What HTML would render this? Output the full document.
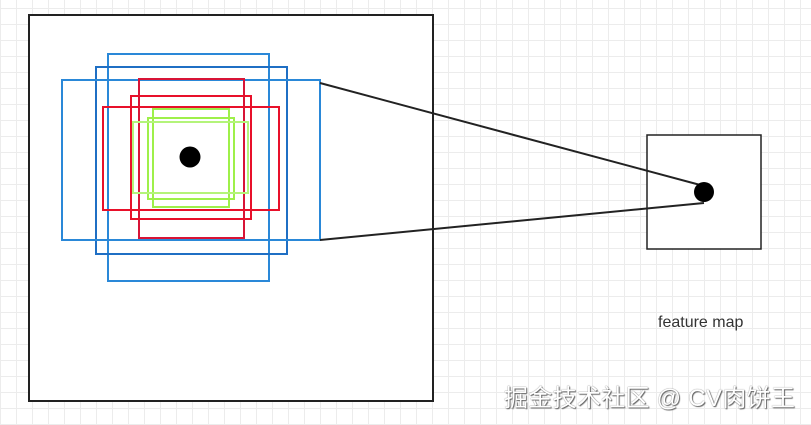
<!DOCTYPE html>
<html><head><meta charset="utf-8"><style>
html,body{margin:0;padding:0;}
body{width:811px;height:425px;overflow:hidden;background-color:#fff;
background-image:linear-gradient(#ececec 1px,transparent 1px),linear-gradient(90deg,#ececec 1px,transparent 1px);
background-size:16px 16px;background-position:0 8px;position:relative;font-family:"Liberation Sans","Noto Sans CJK SC",sans-serif;}
svg{position:absolute;left:0;top:0;}
.fm{position:absolute;left:658px;top:314px;font-size:16px;color:#333;}
.wm{position:absolute;left:504px;top:378px;font-size:24px;color:#fff;text-shadow:0 0 1px #555,1px 1px 1px #666;letter-spacing:0.3px;white-space:nowrap;}
</style></head><body>
<svg width="811" height="425">
<rect x="29" y="15" width="404" height="386" fill="#fff" stroke="#222" stroke-width="2"/>
<rect x="647" y="135" width="114" height="114" fill="#fff" stroke="#222" stroke-width="1.5"/>
<g fill="none" stroke-width="2">
<rect x="108" y="54" width="161" height="227" stroke="#2a88d8"/>
<rect x="96" y="67" width="191" height="187" stroke="#1f6fc4"/>
<rect x="62" y="80" width="258" height="160" stroke="#2a88d8"/>
<rect x="139" y="79" width="105" height="159" stroke="#d81436"/>
<rect x="131" y="96" width="120" height="123" stroke="#e8102a"/>
<rect x="103" y="107" width="176" height="103" stroke="#e8102a"/>
<rect x="153" y="109" width="76" height="98" stroke="#9ef04a"/>
<rect x="148" y="118" width="86" height="81" stroke="#9ef04a"/>
<rect x="133" y="122" width="115" height="71" stroke="#b4f47a"/>
</g>
<line x1="320" y1="83" x2="704" y2="186" stroke="#222" stroke-width="2"/>
<line x1="320" y1="240" x2="704" y2="203" stroke="#222" stroke-width="2"/>
<circle cx="190" cy="157" r="10.5" fill="#000"/>
<circle cx="704" cy="192" r="10" fill="#000"/>
</svg>
<div class="fm">feature map</div>
<div class="wm">掘金技术社区 @ CV肉饼王</div>
</body></html>
